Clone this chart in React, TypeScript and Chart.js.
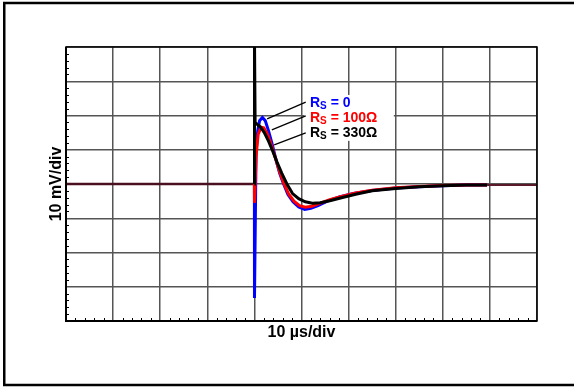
import React, { useEffect, useRef } from "react";
import { Chart, registerables } from "chart.js";

Chart.register(...registerables);

// time in µs (10 µs/div), voltage in mV (10 mV/div)
const baselineT = [0, 40];
const baselineV = [0, 0];

const blueT = [40, 40.02, 40.35, 40.7, 41.1, 41.7, 42.3, 43.0, 43.8, 44.6, 45.4, 46.2, 47.1, 48.2, 49.4, 50.7, 52.0, 53.5, 55.5, 58, 61, 65, 70, 75, 80, 85, 89.4];
const blueV = [0, -33.3, 9, 15.5, 18.5, 19.4, 18.5, 15.5, 11.5, 7, 3, 0, -3, -5.2, -6.7, -7.4, -7.1, -6.3, -5.0, -3.8, -2.8, -1.9, -1.2, -0.8, -0.5, -0.3, -0.3];

const redT = [40, 40.02, 40.35, 40.8, 41.4, 42.0, 42.7, 43.5, 44.4, 45.3, 46.3, 47.3, 48.4, 49.6, 50.8, 52.2, 54, 56, 58.5, 61.5, 65, 70, 75, 80, 85, 89.4];
const redV = [0, -5.5, 8, 14.5, 16.6, 16.4, 14.8, 11.8, 7.8, 3.8, 0, -3, -5, -6.3, -6.8, -6.5, -5.6, -4.6, -3.6, -2.6, -1.8, -1.1, -0.7, -0.45, -0.3, -0.3];

const blackT = [40, 40.02, 40.15, 40.6, 41.3, 42.1, 43.0, 43.9, 44.8, 45.8, 46.9, 48.1, 49.4, 50.8, 52.3, 54, 56, 58.5, 61.5, 65, 70, 75, 80, 85, 89.4];
const blackV = [0, 42, 18, 17.4, 16.6, 15, 12.5, 9.6, 6.4, 3.2, 0, -2.8, -4.3, -5.2, -5.6, -5.5, -4.9, -4, -3, -2, -1.3, -0.8, -0.5, -0.3, -0.3];

const tailT = [89.4, 100];
const tailV = [-0.3, -0.3];

const xTitle = "10 µs/div";
const yTitle = "10 mV/div";

// legend labels: [main, subscript, rest, color]
const labelMain = ["R", "R", "R"];
const labelSub = ["S", "S", "S"];
const labelRest = [" = 0", " = 100Ω", " = 330Ω"];
const labelColors = ["#0000ff", "#ff0000", "#000000"];
const labelT = [51.8, 51.8, 51.8];
const labelV = [22.5, 18.1, 13.7];
// white box behind labels (data coords)
const boxT = [50.6, 69.6];
const boxV = [26.0, 12.6];
// leader lines (data coords): start -> end
const leaderStartT = [50.9, 50.9, 50.9];
const leaderStartV = [23.9, 19.9, 14.9];
const leaderEndT = [42.7, 43.7, 44.2];
const leaderEndV = [19.0, 15.8, 11.4];

const pts = (t: number[], v: number[]) => t.map((x, i) => ({ x, y: v[i] }));

export default function App() {
  const ref = useRef<HTMLCanvasElement>(null);
  useEffect(() => {
    document.body.style.margin = "0";
    const canvas = ref.current!;
    const decor = {
      id: "decor",
      afterDraw(chart: any) {
        const ctx = chart.ctx;
        const xs = chart.scales.x;
        const ys = chart.scales.y;
        const a = chart.chartArea;
        ctx.save();
        // plot border
        ctx.strokeStyle = "#000";
        ctx.lineWidth = 1.5;
        ctx.strokeRect(a.left, a.top, a.right - a.left, a.bottom - a.top);
        ctx.lineWidth = 2;
        ctx.beginPath();
        ctx.moveTo(a.left, a.top);
        ctx.lineTo(a.left, a.bottom);
        ctx.lineTo(a.right, a.bottom);
        ctx.stroke();
        // minor ticks
        ctx.lineWidth = 1;
        ctx.beginPath();
        for (let v = -40; v <= 40; v += 2) {
          if (v % 10 === 0) continue;
          const y = Math.round(ys.getPixelForValue(v)) + 0.5;
          ctx.moveTo(a.left, y);
          ctx.lineTo(a.left + 3, y);
        }
        for (let t = 0; t <= 100; t += 2) {
          if (t % 10 === 0) continue;
          const x = Math.round(xs.getPixelForValue(t)) + 0.5;
          ctx.moveTo(x, a.bottom);
          ctx.lineTo(x, a.bottom - 3);
        }
        ctx.stroke();
        // white box behind labels
        const bx0 = xs.getPixelForValue(boxT[0]);
        const bx1 = xs.getPixelForValue(boxT[1]);
        const by0 = ys.getPixelForValue(boxV[0]);
        const by1 = ys.getPixelForValue(boxV[1]);
        ctx.fillStyle = "#fff";
        ctx.fillRect(bx0, by0, bx1 - bx0, by1 - by0);
        // leader lines
        ctx.lineWidth = 1.3;
        ctx.strokeStyle = "#000";
        for (let i = 0; i < leaderStartT.length; i++) {
          ctx.beginPath();
          ctx.moveTo(xs.getPixelForValue(leaderStartT[i]), ys.getPixelForValue(leaderStartV[i]));
          ctx.lineTo(xs.getPixelForValue(leaderEndT[i]), ys.getPixelForValue(leaderEndV[i]));
          ctx.stroke();
        }
        // labels
        ctx.textBaseline = "alphabetic";
        ctx.textAlign = "left";
        for (let i = 0; i < labelMain.length; i++) {
          let x = xs.getPixelForValue(labelT[i]);
          const y = ys.getPixelForValue(labelV[i]);
          ctx.fillStyle = labelColors[i];
          ctx.font = "bold 14px 'Liberation Sans', Arial, sans-serif";
          ctx.fillText(labelMain[i], x, y);
          x += ctx.measureText(labelMain[i]).width;
          ctx.font = "bold 10px 'Liberation Sans', Arial, sans-serif";
          ctx.fillText(labelSub[i], x, y + 2);
          x += ctx.measureText(labelSub[i]).width;
          ctx.font = "bold 14px 'Liberation Sans', Arial, sans-serif";
          ctx.fillText(labelRest[i], x, y);
        }
        // axis titles
        ctx.fillStyle = "#000";
        ctx.font = "bold 16px 'Liberation Sans', Arial, sans-serif";
        ctx.textAlign = "center";
        ctx.fillText(xTitle, (a.left + a.right) / 2, a.bottom + 16);
        ctx.save();
        ctx.translate(a.left - 5, (a.top + a.bottom) / 2);
        ctx.rotate(-Math.PI / 2);
        ctx.fillText(yTitle, 0, 0);
        ctx.restore();
        // outer frame
        ctx.lineWidth = 2.5;
        ctx.strokeStyle = "#000";
        ctx.strokeRect(4.25, 3, 580, 382);
        ctx.restore();
      },
    };
    const common = { showLine: true, pointRadius: 0, tension: 0, fill: false };
    const chart = new Chart(canvas, {
      type: "scatter",
      data: {
        datasets: [
          { ...common, data: pts(blackT, blackV), borderColor: "#000000", borderWidth: 3 },
          { ...common, data: pts(redT, redV), borderColor: "#ff0000", borderWidth: 3 },
          { ...common, data: pts(blueT, blueV), borderColor: "#0000ff", borderWidth: 3 },
          { ...common, data: pts(baselineT, baselineV), borderColor: "#4a1020", borderWidth: 2.5 },
          { ...common, data: pts(tailT, tailV), borderColor: "#5a1a2a", borderWidth: 2 },
        ],
      } as any,
      options: {
        animation: false,
        responsive: false,
        events: [],
        layout: { padding: { left: 66, right: 37, top: 47, bottom: 66 } },
        plugins: { legend: { display: false }, tooltip: { enabled: false } },
        scales: {
          x: {
            type: "linear",
            min: 0,
            max: 100,
            ticks: { display: false, stepSize: 10 },
            grid: { color: "#555", lineWidth: 1.5, drawTicks: false },
            border: { display: false },
          },
          y: {
            type: "linear",
            min: -40,
            max: 40,
            ticks: { display: false, stepSize: 10 },
            grid: { color: "#555", lineWidth: 1.5, drawTicks: false },
            border: { display: false },
          },
        },
      } as any,
      plugins: [decor],
    });
    return () => chart.destroy();
  }, []);
  return (
    <div style={{ position: "absolute", left: 0, top: 0, width: 574, height: 387 }}>
      <canvas ref={ref} width={574} height={387} />
    </div>
  );
}
